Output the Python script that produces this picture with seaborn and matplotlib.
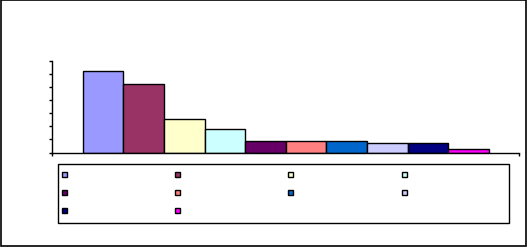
import matplotlib
matplotlib.use("Agg")
import matplotlib.pyplot as plt
from matplotlib.patches import Rectangle
import seaborn as sns
import pandas as pd

# Data (10 unnamed series in one category)
series = ["S1", "S2", "S3", "S4", "S5", "S6", "S7", "S8", "S9", "S10"]
values = [6.22, 5.25, 2.53, 1.77, 0.90, 0.90, 0.90, 0.70, 0.70, 0.24]
group = ["" for _ in series]
colors = ["#9999FF", "#993366", "#FFFFCC", "#CCFFFF", "#660066",
          "#FF8080", "#0066CC", "#CCCCFF", "#000080", "#FF00FF"]
yticks = [0, 1, 2, 3, 4, 5, 6, 7]

df = pd.DataFrame({"group": group, "series": series, "value": values})

sns.set_style("ticks")
plt.rcParams["font.family"] = ["DejaVu Sans"]

W, H = 528, 247
dpi = 100
fig = plt.figure(figsize=(W / dpi, H / dpi), dpi=dpi)

ax_left, ax_right, ax_top, ax_bot = 52.3, 519.3, 60.7, 152.5
ax = fig.add_axes([ax_left / W, 1 - ax_bot / H,
                   (ax_right - ax_left) / W, (ax_bot - ax_top) / H])

sns.barplot(data=df, x="group", y="value", hue="series",
            hue_order=series, palette=colors, width=0.869, gap=0,
            dodge=True, edgecolor="black", linewidth=1.0, saturation=1,
            ax=ax, legend=True)

ax.set_xlim(-0.5, 0.5)
ax.set_ylim(0, 7)
ax.set_yticks(yticks)
ax.set_yticklabels([])
ax.set_xticks([-0.5, 0.5])
ax.set_xticklabels([])
ax.set_xlabel("")
ax.set_ylabel("")
ax.tick_params(axis="both", direction="out", length=2.5, width=1.0,
               color="black")
for s in ["top", "right"]:
    ax.spines[s].set_visible(False)
for s in ["left", "bottom"]:
    ax.spines[s].set_color("black")
    ax.spines[s].set_linewidth(1.0)
ax.set_facecolor("white")

handles, labels = ax.get_legend_handles_labels()
ax.get_legend().remove()
for h in handles:
    h.set_edgecolor("black")
    h.set_linewidth(1.0)
# matplotlib fills columns top-down; reorder to reproduce row-wise layout
order = [0, 4, 8, 1, 5, 9, 2, 6, 3, 7]
hs = [handles[i] for i in order]

u = 10 * dpi / 72.0  # px per font-size unit
hh = (5 / u - 0.245) / 0.65  # gives a 5 px tall handle
leg = fig.legend(hs, [""] * len(hs), ncol=4, fontsize=10,
                 loc="upper left",
                 bbox_to_anchor=(58.3 / W, 1 - 164.3 / H),
                 bbox_transform=fig.transFigure, borderaxespad=0,
                 handlelength=5 / u, handleheight=hh,
                 handletextpad=98.6 / u, columnspacing=9.5 / u,
                 borderpad=4 / u, labelspacing=4.2 / u,
                 fancybox=False, shadow=False, frameon=True)
leg.get_frame().set_edgecolor("black")
leg.get_frame().set_linewidth(1.0)
leg.get_frame().set_alpha(None)

fig.patches.append(Rectangle((0.5 / W, 1 - 245.7 / H), 525.2 / W, 245.2 / H,
                             transform=fig.transFigure, fill=False,
                             edgecolor="black", linewidth=1.2))

fig.savefig("out.png", dpi=dpi)
